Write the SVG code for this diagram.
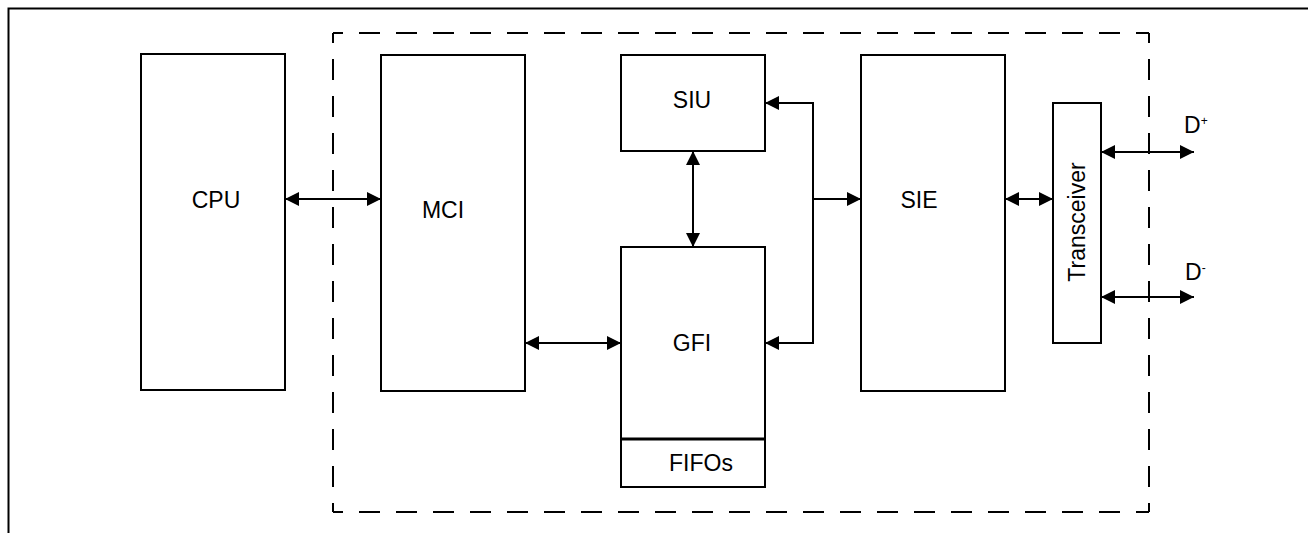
<svg xmlns="http://www.w3.org/2000/svg" width="1308" height="533" viewBox="0 0 1308 533">
<style>
.box{fill:#fff;stroke:#000;stroke-width:2}
.lbl{font-family:"Liberation Sans",Arial,sans-serif;font-size:23px;fill:#000;text-anchor:middle}
.dash{stroke:#000;stroke-width:2;fill:none;stroke-dasharray:21 16;stroke-dashoffset:11}
.conn{stroke:#000;stroke-width:2;fill:none}
</style>
<defs>
<marker id="ah" viewBox="0 0 14 14" refX="14" refY="7" markerWidth="14" markerHeight="14" markerUnits="userSpaceOnUse" orient="auto-start-reverse">
<path d="M0,0 L14,7 L0,14 z" fill="#000"/>
</marker>
</defs>
<rect width="1308" height="533" fill="#fff"/>
<rect x="8.5" y="8.5" width="1400" height="600" fill="none" stroke="#000" stroke-width="2"/>
<g id="boundary">
<line class="dash" x1="333" y1="33" x2="1149" y2="33"/>
<line class="dash" x1="333" y1="33" x2="333" y2="512"/>
<line class="dash" x1="1149" y1="33" x2="1149" y2="512"/>
<line class="dash" x1="333" y1="512" x2="1149" y2="512"/>
</g>
<g id="cpu">
<rect class="box" x="141" y="54" width="144" height="336"/>
<text class="lbl" x="216" y="208">CPU</text>
</g>
<g id="mci">
<rect class="box" x="381" y="55" width="144" height="336"/>
<text class="lbl" x="443" y="218">MCI</text>
</g>
<g id="siu">
<rect class="box" x="621" y="55" width="144" height="96"/>
<text class="lbl" x="692" y="108">SIU</text>
</g>
<g id="gfi">
<rect class="box" x="621" y="247" width="144" height="240"/>
<line x1="621" y1="439" x2="765" y2="439" stroke="#000" stroke-width="3"/>
<text class="lbl" x="692" y="351">GFI</text>
<text class="lbl" x="701" y="471">FIFOs</text>
</g>
<g id="sie">
<rect class="box" x="861" y="55" width="144" height="336"/>
<text class="lbl" x="919" y="208">SIE</text>
</g>
<g id="transceiver">
<rect class="box" x="1053" y="103" width="48" height="240"/>
<text class="lbl" transform="translate(1085,222) rotate(-90)">Transceiver</text>
</g>
<g id="dplus">
<text font-family="Liberation Sans,Arial,sans-serif" font-size="23" x="1184" y="133">D<tspan font-size="12" dy="-8">+</tspan></text>
</g>
<g id="dminus">
<text font-family="Liberation Sans,Arial,sans-serif" font-size="23" x="1185" y="280">D<tspan font-size="12" dy="-8">-</tspan></text>
</g>
<g id="connectors">
<path class="conn" d="M285,199 H381" marker-start="url(#ah)" marker-end="url(#ah)"/>
<path class="conn" d="M525,343 H621" marker-start="url(#ah)" marker-end="url(#ah)"/>
<path class="conn" d="M693,151 V247" marker-start="url(#ah)" marker-end="url(#ah)"/>
<path class="conn" d="M765,103 H813 V343 H765" marker-start="url(#ah)" marker-end="url(#ah)"/>
<path class="conn" d="M813,199 H861" marker-end="url(#ah)"/>
<path class="conn" d="M1005,199 H1053" marker-start="url(#ah)" marker-end="url(#ah)"/>
<path class="conn" d="M1101,152 H1194" marker-start="url(#ah)" marker-end="url(#ah)"/>
<path class="conn" d="M1101,297 H1194" marker-start="url(#ah)" marker-end="url(#ah)"/>
</g>
</svg>
